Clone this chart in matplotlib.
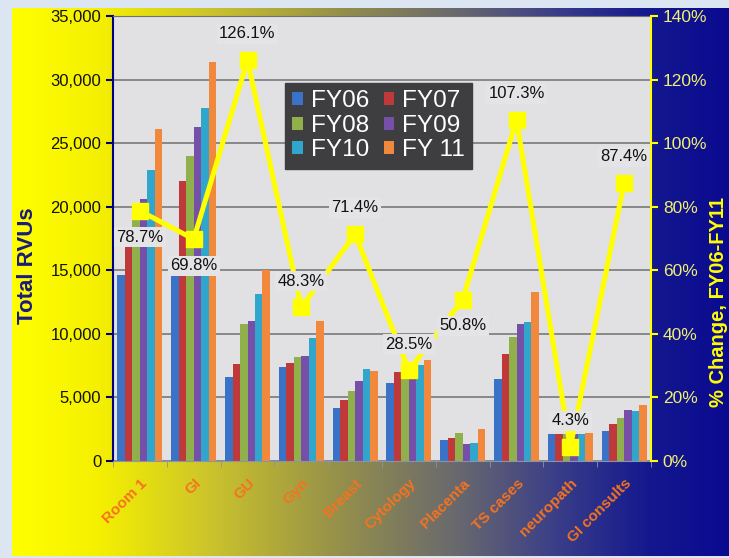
import numpy as np
import matplotlib.pyplot as plt
from matplotlib.colors import LinearSegmentedColormap
from matplotlib.ticker import FuncFormatter, MultipleLocator

plt.rcParams['font.family'] = ['Liberation Sans', 'DejaVu Sans']

# data
categories = ["Room 1", "GI", "GU", "Gyn", "Breast", "Cytology", "Placenta",
              "TS cases", "neuropath", "GI consults"]
years = ["FY06", "FY07", "FY08", "FY09", "FY10", "FY 11"]
fy06 = [14600, 15800, 6630, 7420, 4140, 6160, 1650, 6420, 2100, 2360]
fy07 = [17500, 22000, 7620, 7680, 4800, 7020, 1790, 8410, 2110, 2880]
fy08 = [19000, 24000, 10800, 8200, 5530, 7400, 2170, 9780, 2120, 3350]
fy09 = [20600, 26300, 11030, 8280, 6310, 7100, 1340, 10770, 2110, 4010]
fy10 = [22900, 27800, 13100, 9700, 7230, 7550, 1440, 10950, 2120, 3950]
fy11 = [26150, 31400, 15020, 11030, 7080, 7940, 2490, 13310, 2190, 4400]
pct_change = [78.7, 69.8, 126.1, 48.3, 71.4, 28.5, 50.8, 107.3, 4.3, 87.4]

series = [fy06, fy07, fy08, fy09, fy10, fy11]
colors = ["#3a72c8", "#c0393a", "#8fb04a", "#7650a8", "#31a6cc", "#f2883c"]
below = [0, 1, 6]  # labels placed under the marker

fig = plt.figure(figsize=(7.29, 5.58), dpi=100, facecolor="#dce5f2")

# yellow -> blue gradient panel behind the chart
bg = fig.add_axes([12/729, 2/558, 717/729, 548/558])
cmap = LinearSegmentedColormap.from_list("panel", [
    (0.0, "#ffff00"), (0.12, "#f5f000"), (0.26, "#d0c828"), (0.44, "#9a9448"),
    (0.63, "#666670"), (0.76, "#3a3e88"), (0.89, "#14188e"), (1.0, "#0a0a90")])
bg.imshow(np.linspace(0, 1, 256)[None, :], cmap=cmap, aspect="auto",
          extent=[0, 1, 0, 1])
bg.axis("off")

ax = fig.add_axes([113/729, 97/558, 538/729, 445/558])
ax.set_facecolor("#e1e1e3")
x = np.arange(len(categories))
w = 0.139
bars = []
for j, vals in enumerate(series):
    b = ax.bar(x + (j - 2.5) * w, vals, w, color=colors[j], zorder=2,
               label=years[j])
    bars.append(b)

ax.set_xlim(-0.5, len(categories) - 0.5)
ax.set_ylim(0, 35000)
ax.yaxis.set_major_locator(MultipleLocator(5000))
ax.yaxis.set_major_formatter(FuncFormatter(lambda v, p: f"{int(v):,}"))
ax.set_axisbelow(True)
ax.grid(axis="y", color="#707070", lw=1.1)
ax.tick_params(axis="y", length=5, width=1.5, color="#000080",
               labelsize=12, labelcolor="#111111")
ax.set_xticks(x)
ax.set_xticklabels(categories, rotation=45, ha="right", rotation_mode="anchor",
                   color="#f5731e", fontsize=11, fontweight="bold")
ax.tick_params(axis="x", which="major", length=0, pad=11)
ax.set_xticks(np.arange(-0.5, len(categories)), minor=True)
ax.tick_params(axis="x", which="minor", length=4, color="#8a94a8")
ax.spines["left"].set_color("#000080")
ax.spines["left"].set_linewidth(1.5)
ax.spines["bottom"].set_color("#8a94a8")
ax.spines["top"].set_color("#707070")
ax.set_ylabel("Total RVUs", fontsize=16, fontweight="bold", color="#1a1a80",
              va="center", ha="center")
ax.yaxis.set_label_coords(-0.158, 0.44)

ax2 = ax.twinx()
ax2.set_ylim(0, 140)
ax2.yaxis.set_major_locator(MultipleLocator(20))
ax2.yaxis.set_major_formatter(FuncFormatter(lambda v, p: f"{v:.0f}%"))
ax2.plot(x, pct_change, color="#ffff00", lw=3.6, marker="s", ms=11, zorder=3)
for i, p in enumerate(pct_change):
    dy = -19 if i in below else 19
    ax2.annotate(f"{p}%", (x[i], p), xytext=(0, dy), textcoords="offset points",
                 ha="center", va="center", fontsize=12, color="#111111",
                 bbox=dict(boxstyle="square,pad=0.15", fc="#e4e4e6", ec="none"),
                 zorder=5)
ax2.tick_params(axis="y", length=5, width=1.5, color="#ffff00",
                labelsize=12.5, labelcolor="#f0f070")
for s in ["left", "bottom", "top"]:
    ax2.spines[s].set_visible(False)
ax2.spines["right"].set_color("#ffff00")
ax2.spines["right"].set_linewidth(1.5)
ax2.set_ylabel("% Change, FY06-FY11", fontsize=14.5, fontweight="bold",
               color="#ffff00", rotation=90, va="center", ha="center")
ax2.yaxis.set_label_coords(1.126, 0.357)

order = [0, 2, 4, 1, 3, 5]
leg = ax2.legend([bars[k] for k in order], [years[k] for k in order], ncol=2,
                 loc="upper left", bbox_to_anchor=(0.32, 0.849),
                 fontsize=17.5, labelcolor="white", facecolor="#3e3e40",
                 edgecolor="#3e3e40", framealpha=1, fancybox=False,
                 handlelength=0.45, handleheight=0.45, handletextpad=0.3,
                 labelspacing=0.1, columnspacing=0.6, borderpad=0.3,
                 borderaxespad=0)
leg.set_zorder(6)

plt.savefig("out.png", dpi=100, facecolor=fig.get_facecolor())
